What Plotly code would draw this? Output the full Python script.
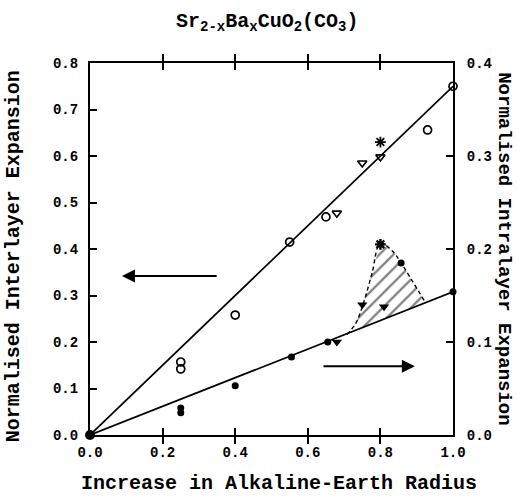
import plotly.graph_objects as go

# ---- data ----
# Interlayer expansion (left axis)
inter_circ_x = [0.25, 0.25, 0.40, 0.55, 0.65, 0.93, 1.00]
inter_circ_y = [0.157, 0.142, 0.258, 0.415, 0.469, 0.656, 0.750]
inter_tri_x = [0.68, 0.75, 0.80]
inter_tri_y = [0.477, 0.585, 0.598]
inter_star_x = [0.80]
inter_star_y = [0.630]
origin_x = [0.0]
origin_y = [0.0]
inter_fit_x = [0.0, 1.0]
inter_fit_y = [0.0, 0.75]

# Intralayer expansion (right axis)
intra_circ_x = [0.25, 0.25, 0.40, 0.555, 0.655, 0.857, 1.00]
intra_circ_y = [0.029, 0.024, 0.053, 0.084, 0.100, 0.185, 0.154]
intra_tri_x = [0.68, 0.75, 0.81]
intra_tri_y = [0.100, 0.140, 0.138]
intra_star_x = [0.80]
intra_star_y = [0.205]
intra_fit_x = [0.0, 1.0]
intra_fit_y = [0.0, 0.154]

# hatched anomaly region (right-axis units)
region_x = [0.708, 0.732, 0.752, 0.777, 0.800, 0.835, 0.857, 0.923]
region_y = [0.108, 0.120, 0.140, 0.174, 0.206, 0.197, 0.185, 0.143]

x_ticks = [0.0, 0.2, 0.4, 0.6, 0.8, 1.0]

FONT = "Liberation Mono"
BLACK = "black"

fig = go.Figure()

# hatched fill (closed polygon along the fit line)
fig.add_trace(go.Scatter(
    x=region_x + [region_x[0]], y=region_y + [region_y[0]], yaxis="y2",
    mode="lines", fill="toself", line=dict(width=0, color=BLACK),
    fillcolor="rgba(0,0,0,0)",
    fillpattern=dict(shape="/", size=10, solidity=0.22, fgcolor=BLACK,
                     bgcolor="rgba(0,0,0,0)"),
    hoverinfo="skip", showlegend=False))
# dashed boundary of the region
fig.add_trace(go.Scatter(
    x=region_x, y=region_y, yaxis="y2", mode="lines",
    line=dict(color=BLACK, width=1.4, dash="4px,3px", shape="spline"),
    showlegend=False, hoverinfo="skip"))

# fit lines
fig.add_trace(go.Scatter(x=inter_fit_x, y=inter_fit_y, mode="lines",
                         line=dict(color=BLACK, width=1.7), showlegend=False))
fig.add_trace(go.Scatter(x=intra_fit_x, y=intra_fit_y, yaxis="y2", mode="lines",
                         line=dict(color=BLACK, width=1.7), showlegend=False))

# interlayer markers (open)
fig.add_trace(go.Scatter(x=inter_circ_x, y=inter_circ_y, mode="markers", cliponaxis=False,
                         marker=dict(symbol="circle-open", size=8, color=BLACK,
                                     line=dict(width=1.7)), showlegend=False))
fig.add_trace(go.Scatter(x=inter_tri_x, y=inter_tri_y, mode="markers", cliponaxis=False,
                         marker=dict(symbol="triangle-down-open", size=8, color=BLACK,
                                     line=dict(width=1.7)), showlegend=False))
fig.add_trace(go.Scatter(x=inter_star_x, y=inter_star_y, mode="markers", cliponaxis=False,
                         marker=dict(symbol="asterisk-open", size=9, color=BLACK,
                                     line=dict(width=1.7)), showlegend=False))
fig.add_trace(go.Scatter(x=origin_x, y=origin_y, mode="markers", cliponaxis=False,
                         marker=dict(symbol="circle", size=10, color=BLACK),
                         showlegend=False))

# intralayer markers (filled)
fig.add_trace(go.Scatter(x=intra_circ_x, y=intra_circ_y, yaxis="y2", mode="markers",
                         cliponaxis=False,
                         marker=dict(symbol="circle", size=7, color=BLACK),
                         showlegend=False))
fig.add_trace(go.Scatter(x=intra_tri_x, y=intra_tri_y, yaxis="y2", mode="markers",
                         cliponaxis=False,
                         marker=dict(symbol="triangle-down", size=9, color=BLACK),
                         showlegend=False))
fig.add_trace(go.Scatter(x=intra_star_x, y=intra_star_y, yaxis="y2", mode="markers",
                         cliponaxis=False,
                         marker=dict(symbol="asterisk-open", size=9, color=BLACK,
                                     line=dict(width=2.4)), showlegend=False))

tickfont = dict(family=FONT, size=14, color=BLACK, weight="bold")

fig.update_layout(
    width=517, height=497,
    margin=dict(l=90, r=64, t=63, b=62),
    paper_bgcolor="white", plot_bgcolor="white",
    font=dict(family=FONT, color=BLACK),
    xaxis=dict(range=[0, 1], tickvals=x_ticks, tickformat=".1f",
               ticks="inside", ticklen=7, tickwidth=1.5, tickcolor=BLACK,
               showline=True, linewidth=2, linecolor=BLACK, mirror="allticks",
               showgrid=False, zeroline=False, tickfont=tickfont,
               ticklabelstandoff=3),
    yaxis=dict(range=[0, 0.8], dtick=0.1, tickformat=".1f",
               ticks="inside", ticklen=7, tickwidth=1.5, tickcolor=BLACK,
               showline=True, linewidth=2, linecolor=BLACK,
               showgrid=False, zeroline=False, tickfont=tickfont,
               ticklabelstandoff=7),
    yaxis2=dict(range=[0, 0.4], dtick=0.1, tickformat=".1f", overlaying="y",
                side="right", ticks="inside", ticklen=7, tickwidth=1.5,
                tickcolor=BLACK, showline=True, linewidth=2, linecolor=BLACK,
                showgrid=False, zeroline=False, tickfont=tickfont,
                ticklabelstandoff=9),
    showlegend=False,
)

title_font = dict(family=FONT, size=20, color=BLACK, weight="bold")
side_font = dict(family=FONT, size=19, color=BLACK, weight="bold")

fig.add_annotation(
    text="Sr<sub>2-x</sub>Ba<sub>x</sub>CuO<sub>2</sub>(CO<sub>3</sub>)",
    xref="paper", yref="paper", x=0.49, y=1.11, showarrow=False,
    font=title_font, xanchor="center", yanchor="middle")
fig.add_annotation(
    text="Increase in Alkaline-Earth Radius",
    xref="paper", yref="paper", x=0.52, y=-0.13, showarrow=False,
    font=title_font, xanchor="center", yanchor="middle")
fig.add_annotation(
    text="Normalised Interlayer Expansion",
    xref="paper", yref="paper", x=-0.21, y=0.48, showarrow=False, textangle=-90,
    font=title_font, xanchor="center", yanchor="middle")
fig.add_annotation(
    text="Normalised Intralayer Expansion",
    xref="paper", yref="paper", x=1.14, y=0.5, showarrow=False, textangle=90,
    font=side_font, xanchor="center", yanchor="middle")

# arrows indicating which axis each line belongs to
fig.add_annotation(x=0.088, y=0.342, ax=0.353, ay=0.342, xref="x", yref="y",
                   axref="x", ayref="y", text="", showarrow=True,
                   arrowhead=2, arrowsize=1.3, arrowwidth=2, arrowcolor=BLACK)
fig.add_annotation(x=0.895, y=0.148, ax=0.639, ay=0.148, xref="x", yref="y",
                   axref="x", ayref="y", text="", showarrow=True,
                   arrowhead=2, arrowsize=1.3, arrowwidth=2, arrowcolor=BLACK)

fig.write_html("out.html")
